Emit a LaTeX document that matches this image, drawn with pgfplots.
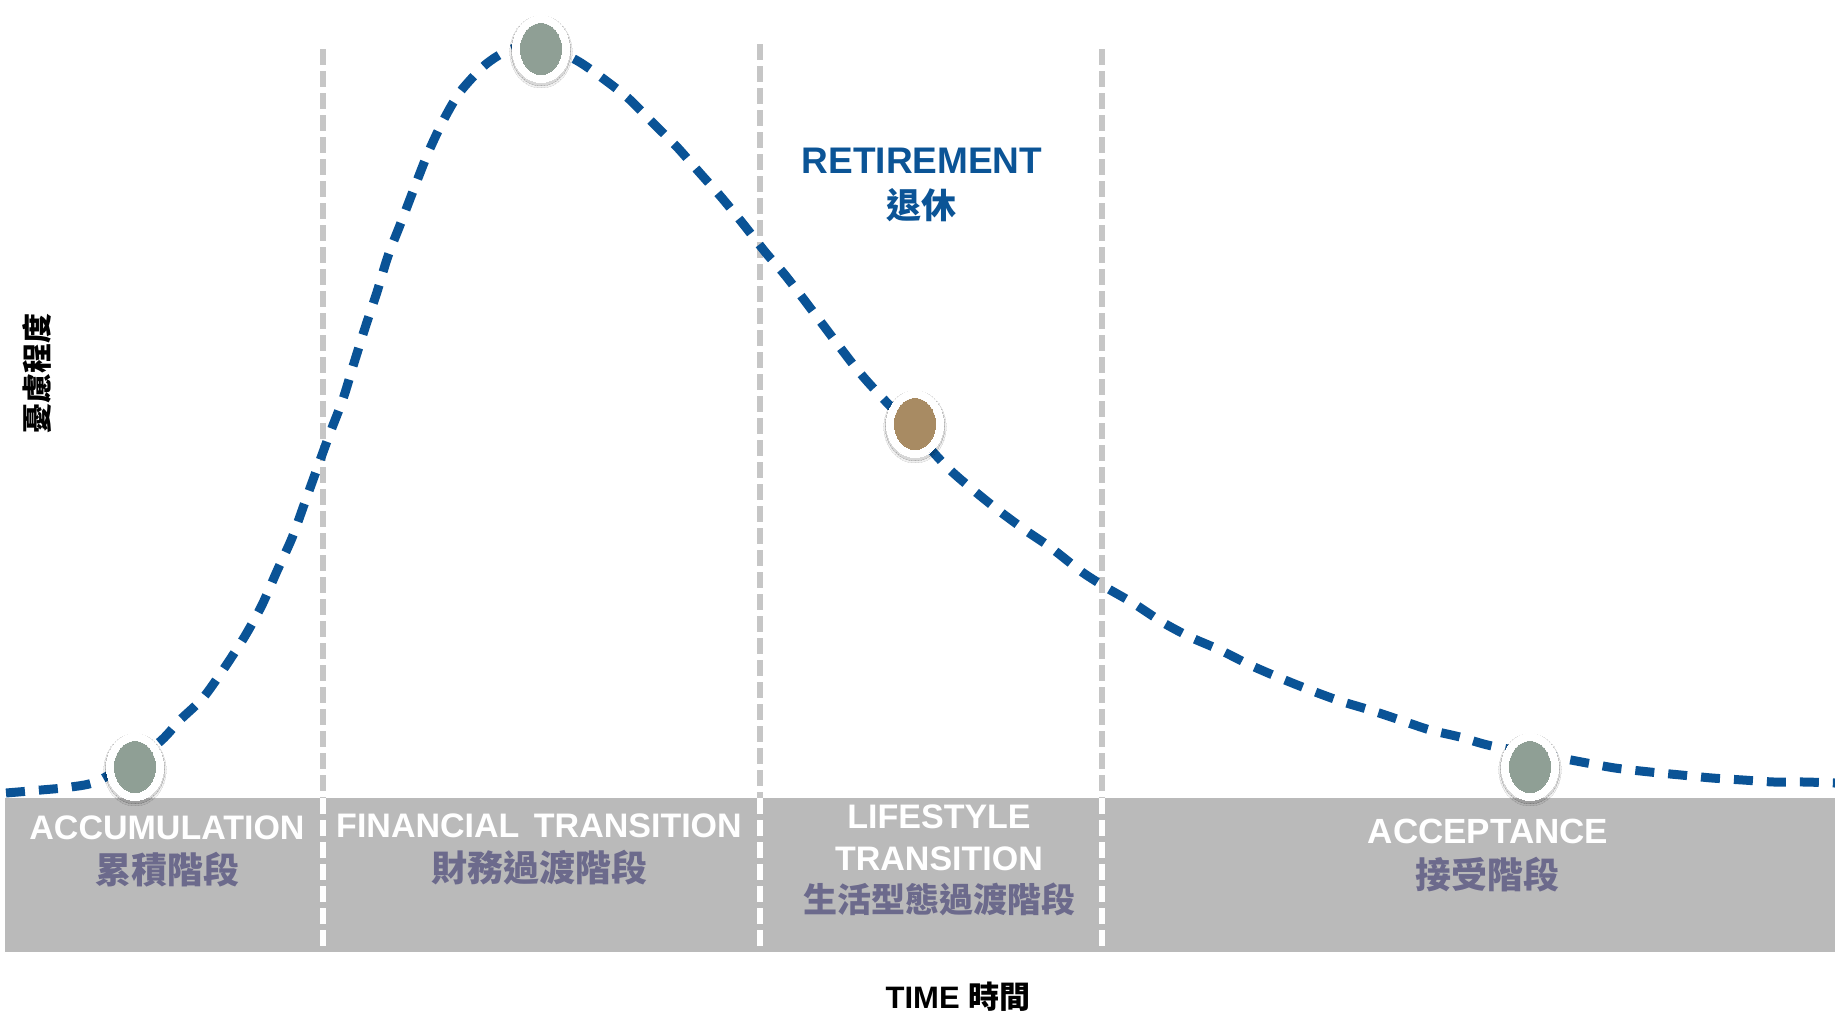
\documentclass[border=0pt]{standalone}
\usepackage{pgfplots}
\pgfplotsset{compat=1.18}
\usepackage{fontspec}
\setmainfont{Liberation Sans}
\newfontfamily\cjk{Noto Sans CJK TC}
\definecolor{curveblue}{RGB}{10,83,150}
\definecolor{retblue}{RGB}{11,84,150}
\definecolor{bandgray}{RGB}{186,186,186}
\definecolor{vgray}{RGB}{198,198,198}
\definecolor{labpurple}{RGB}{108,106,140}
\definecolor{mgreen}{RGB}{143,159,149}
\definecolor{mbrown}{RGB}{168,139,99}
\begin{document}
\begin{tikzpicture}
\begin{axis}[
  at={(0,0)}, anchor=south west,
  width=917.5pt, height=506.5pt, scale only axis,
  xmin=0, xmax=1835, ymin=0, ymax=1013, y dir=reverse,
  hide axis, clip=false]
% gray band
\addplot[fill=bandgray, draw=none, forget plot] coordinates {(5,798) (1835,798) (1835,952) (5,952)} -- cycle;
% vertical dashed separators
\foreach \xx/\yt in {323/49, 760/44, 1102/49} {
  \edef\tmp{\noexpand\addplot[vgray, line width=2.6pt, dash pattern=on 8pt off 3pt, forget plot] coordinates {(\xx,\yt) (\xx,798)};
  \noexpand\addplot[white, line width=2.6pt, dash pattern=on 8pt off 3pt, forget plot] coordinates {(\xx,798) (\xx,952)};}
  \tmp
}
% curve
\addplot[curveblue, line width=4.5pt, dash pattern=on 9.5pt off 7pt, smooth, tension=0.45] coordinates {
(6,793) (41,790) (71,787) (100,780) (157,744) (180,720) (203,698) (225,667)
(245,636) (262,605) (277,571) (292,538) (305,502) (318,466) (330,433) (343,399)
(354,363) (365,328) (377,292) (388,256) (402,220) (415,186) (428,153) (443,121)
(460,92) (485,65) (509,50) (540,44) (576,60) (601,77) (628,98) (652,122) (677,147) (699,172)
(722,198) (744,225) (766,253) (789,280) (852,363) (876,391) (913,430) (947,467)
(972,489) (998,510) (1025,530) (1050,547) (1082,572) (1107,588) (1133,603) (1162,622)
(1190,637) (1220,650) (1250,665) (1280,678) (1310,690) (1340,701) (1370,710)
(1400,720) (1430,730) (1460,737) (1492,746) (1560,758) (1587,763) (1615,768)
(1650,772) (1681,775) (1712,778) (1743,780) (1774,782) (1805,782) (1835,783)};
% marker shadows (soft)
\addplot[black, opacity=0.06, only marks, mark=*, mark size=15.6pt, mark options={line width=0pt, yscale=1.16, yshift=-1.2pt}] coordinates {(135,767) (541,49) (915,424) (1530,767)};
\addplot[black, opacity=0.10, only marks, mark=*, mark size=14.9pt, mark options={line width=0pt, yscale=1.165, yshift=-0.9pt}] coordinates {(135,767) (541,49) (915,424) (1530,767)};
% markers: white ring
\addplot[white, only marks, mark=*, mark size=14.25pt, mark options={line width=0pt, yscale=1.175}] coordinates {(135,767) (541,49) (915,424) (1530,767)};
% markers: inner fill
\addplot[mgreen, only marks, mark=*, mark size=10.25pt, mark options={line width=0pt, yscale=1.244}] coordinates {(135,767) (541,49) (1530,767)};
\addplot[mbrown, only marks, mark=*, mark size=10.25pt, mark options={line width=0pt, yscale=1.244}] coordinates {(915,424)};
% texts
\node[inner sep=0, text=retblue, font=\fontsize{18.5}{20}\selectfont\bfseries] at (axis cs:922,161) {RETIREMENT};
\node[inner sep=0, text=retblue, font=\fontsize{17.5}{20}\selectfont\cjk\bfseries] at (axis cs:921,205) {退休};
\node[inner sep=0, text=white, font=\fontsize{17}{20}\selectfont\bfseries] at (axis cs:167,828) {ACCUMULATION};
\node[inner sep=0, text=labpurple, font=\fontsize{18}{20}\selectfont\cjk\bfseries] at (axis cs:167,870) {累積階段};
\node[inner sep=0, text=white, font=\fontsize{17}{20}\selectfont\bfseries] at (axis cs:539,826) {FINANCIAL\hspace{0.15em} TRANSITION};
\node[inner sep=0, text=labpurple, font=\fontsize{18}{20}\selectfont\cjk\bfseries] at (axis cs:539,868) {財務過渡階段};
\node[inner sep=0, text=white, font=\fontsize{17}{20}\selectfont\bfseries] at (axis cs:939,817) {LIFESTYLE};
\node[inner sep=0, text=white, font=\fontsize{17}{20}\selectfont\bfseries] at (axis cs:939,859) {TRANSITION};
\node[inner sep=0, text=labpurple, font=\fontsize{17}{20}\selectfont\cjk\bfseries] at (axis cs:939,899) {生活型態過渡階段};
\node[inner sep=0, text=white, font=\fontsize{17.5}{20}\selectfont\bfseries] at (axis cs:1488,831) {ACCEPTANCE};
\node[inner sep=0, text=labpurple, font=\fontsize{18}{20}\selectfont\cjk\bfseries] at (axis cs:1487,875) {接受階段};
\node[inner sep=0, text=black, font=\fontsize{15.5}{18}\selectfont\bfseries] at (axis cs:958,997) {TIME {\cjk\bfseries 時間}};
\node[inner sep=0, text=black, rotate=90, font=\fontsize{15}{16}\selectfont\cjk\bfseries] at (axis cs:37,373) {憂慮程度};
\end{axis}
\pgfresetboundingbox
\path (0,0) rectangle (917.5pt,506.5pt);
\end{tikzpicture}
\end{document}
